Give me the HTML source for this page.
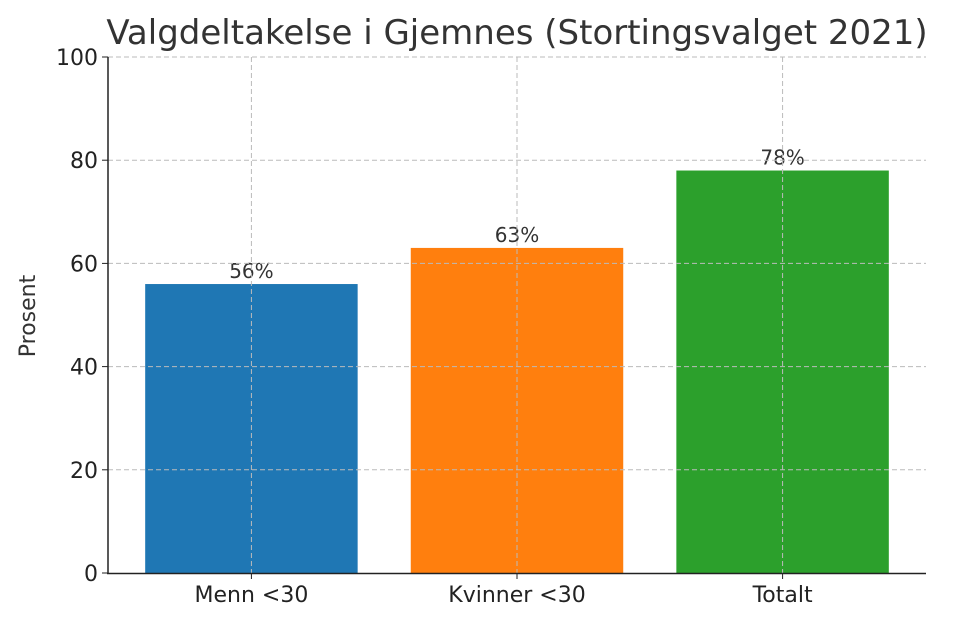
<!DOCTYPE html>
<html><head><meta charset="utf-8"><style>
body{margin:0;background:#fff}
svg{display:block;font-family:"DejaVu Sans","Liberation Sans",sans-serif}
</style></head><body>
<svg id="chart" width="960" height="624" viewBox="0 0 960 624">
<text x="517" y="44" font-size="34" fill="#333" text-anchor="middle">Valgdeltakelse i Gjemnes (Stortingsvalget 2021)</text>
<text transform="translate(35,316) rotate(-90)" font-size="22" fill="#333" text-anchor="middle">Prosent</text>
<g id="bars"></g><g id="grid"></g><g id="ticks"></g>
<line x1="108" y1="57" x2="108" y2="573.5" stroke="#222" stroke-width="1.5"/>
<line x1="107" y1="573.5" x2="926" y2="573.5" stroke="#222" stroke-width="1.5"/>
</svg>
<script>
const categories=["Menn <30","Kvinner <30","Totalt"];
const values=[56,63,78];
const valueLabels=["56%","63%","78%"];
const yTicks=[0,20,40,60,80,100];
const colors=["#1f77b4","#ff7f0e","#2ca02c"];
const NS="http://www.w3.org/2000/svg";
const x0=108,x1=926,y0=573,y1=57;
const step=(x1-x0)/(categories.length+0.08);
const xc=i=>x0+step*(i+0.54);
const y=v=>y0-(v/100)*(y0-y1);
function mk(t,a,p){const e=document.createElementNS(NS,t);for(const k in a)e.setAttribute(k,a[k]);p.appendChild(e);return e;}
const bars=document.getElementById('bars'),grid=document.getElementById('grid'),ticks=document.getElementById('ticks');
const bw=step*0.8;
categories.forEach((c,i)=>{
 const r=mk('rect',{x:xc(i)-bw/2,y:y(values[i]),width:bw,height:y0-y(values[i]),fill:colors[i]},bars);
 
 
 const t=mk('text',{x:xc(i),y:y(values[i])-6,'font-size':20,fill:'#333','text-anchor':'middle'},bars);t.textContent=valueLabels[i];
 
 
 const g=mk('line',{x1:xc(i),x2:xc(i),y1:y1,y2:y0,stroke:'#bbb','stroke-dasharray':'5,3'},grid);
 
 
 mk('line',{x1:xc(i),x2:xc(i),y1:y0,y2:y0+6,stroke:'#222'},ticks);
 const l=mk('text',{x:xc(i),y:y0+29,'font-size':22,fill:'#222','text-anchor':'middle'},ticks);l.textContent=c;
 
 
});
yTicks.forEach(v=>{
 if(v>0){const g=mk('line',{x1:x0,x2:x1,y1:y(v),y2:y(v),stroke:'#bbb','stroke-dasharray':'5,3'},grid);
 
 }
 mk('line',{x1:x0-6,x2:x0,y1:y(v),y2:y(v),stroke:'#222'},ticks);
 const l=mk('text',{x:x0-10,y:y(v)+8,'font-size':22,fill:'#222','text-anchor':'end'},ticks);l.textContent=v;
 
 
});
</script>
</body></html>
